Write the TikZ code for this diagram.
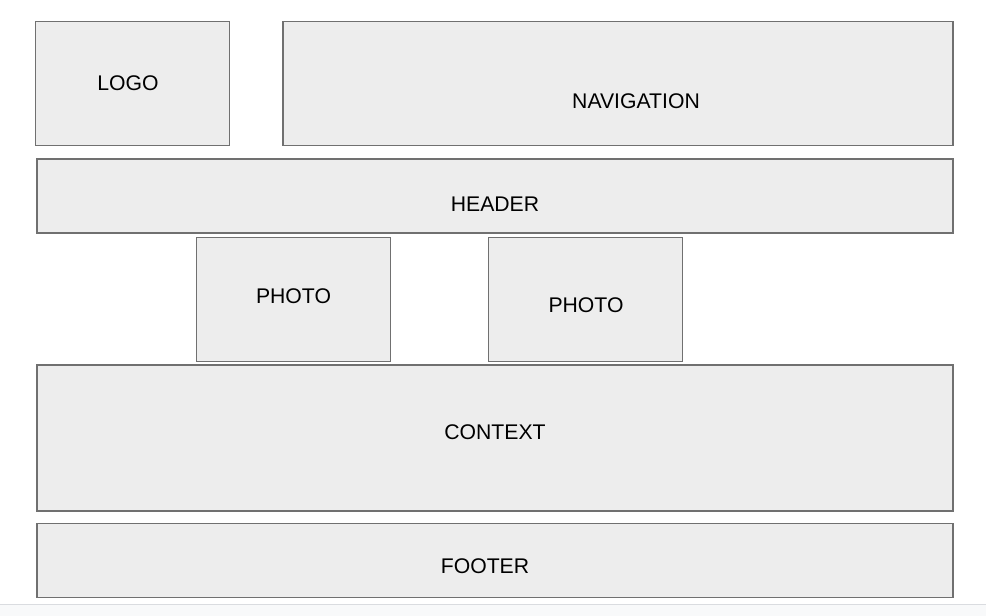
\documentclass[tikz,border=0pt]{standalone}
\usepackage{fontspec}
\setmainfont{Liberation Sans}

\definecolor{boxfill}{HTML}{EDEDED}
\definecolor{boxline}{HTML}{707070}
\definecolor{barfill}{HTML}{F8F9FA}
\definecolor{barline}{HTML}{DADCE0}

\tikzset{
  block/.style={shape=rectangle,draw=boxline,fill=boxfill,line width=0.55pt,inner sep=0pt},
  caption/.style={inner sep=0pt,font=\fontsize{10.6}{12}\selectfont}
}

\begin{document}
\begin{tikzpicture}[x=0.5pt,y=-0.5pt]
\useasboundingbox (0,0) rectangle (986,616);
\fill[barfill] (0,604) rectangle (986,616);
\draw[barline,line width=0.6pt] (0,604.5) -- (986,604.5);

\node[block,minimum width=97pt,minimum height=62pt] (logo) at (132.5,83.7) {};
\node[block,minimum width=335pt,minimum height=62pt] (nav) at (618,83.7) {};
\node[block,minimum width=458pt,minimum height=37pt] (header) at (495,196) {};
\node[block,minimum width=97pt,minimum height=62pt] (photoa) at (293.7,299.3) {};
\node[block,minimum width=97pt,minimum height=62pt] (photob) at (585.5,299.3) {};
\node[block,minimum width=458pt,minimum height=73pt] (context) at (495,438) {};
\node[block,minimum width=458pt,minimum height=37pt] (footer) at (495,560.3) {};

\node[caption] (logotext) at (128,83.5) {LOGO};
\node[caption] (navtext) at (636,101.5) {NAVIGATION};
\node[caption] (headertext) at (495,204.5) {HEADER};
\node[caption] (photoatext) at (293.5,296.5) {PHOTO};
\node[caption] (photobtext) at (586,305.5) {PHOTO};
\node[caption] (contexttext) at (495,432.5) {CONTEXT};
\node[caption] (footertext) at (485,566.5) {FOOTER};
\end{tikzpicture}
\end{document}
